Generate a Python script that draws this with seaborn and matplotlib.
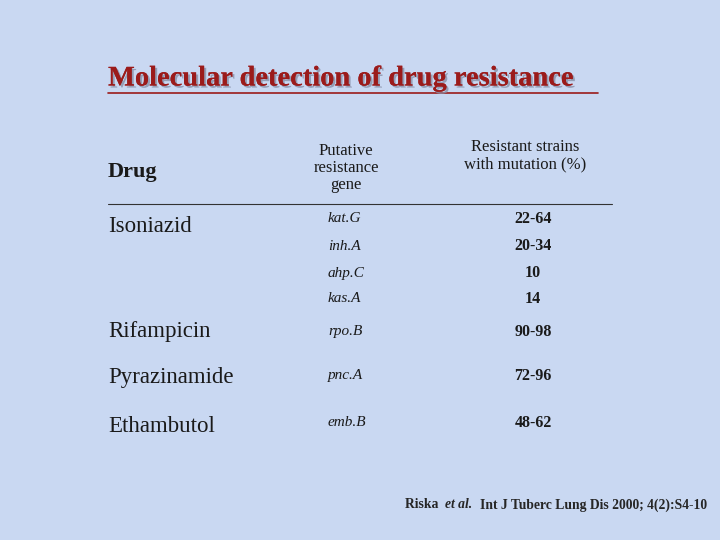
import matplotlib
matplotlib.use("Agg")
import matplotlib.pyplot as plt
import matplotlib.patheffects as pe
import seaborn as sns

sns.set_style("white")
plt.rcParams['font.family'] = ['Liberation Serif', 'DejaVu Serif']

title = "Molecular detection of drug resistance"
headers = ["Drug", "Putative\nresistance\ngene", "Resistant strains\nwith mutation (%)"]
drugs = ["Isoniazid", "Rifampicin", "Pyrazinamide", "Ethambutol"]
drug_y = [227, 332, 378, 426]
genes = ["kat.G", "inh.A", "ahp.C", "kas.A", "rpo.B", "pnc.A", "emb.B"]
values = ["22-64", "20-34", "10", "14", "90-98", "72-96", "48-62"]
row_y = [219, 246, 273, 299, 332, 376, 423]

fig = plt.figure(figsize=(7.2, 5.4), dpi=100)
fig.patch.set_facecolor("#C9D8F2")
ax = fig.add_axes([0, 0, 1, 1])
ax.set_xlim(0, 720); ax.set_ylim(540, 0); ax.axis("off")

ax.text(108, 79, title, color="#9B1B1B", fontsize=20.5, fontweight="bold", va="center",
        path_effects=[pe.withSimplePatchShadow(offset=(1.5, -1.5), shadow_rgbFace="#8890a8", alpha=0.8),
                      pe.Normal()])
ax.plot([108, 598], [93, 93], color="#9B1B1B", lw=1.2)

ax.text(108, 172, headers[0], fontsize=16, fontweight="bold", va="center", color="#1a1a1a")
ax.text(346, 168, headers[1], fontsize=12, ha="center", va="center", linespacing=1.1, color="#1a1a1a")
ax.text(525, 156, headers[2], fontsize=12, ha="center", va="center", linespacing=1.1, color="#1a1a1a")
ax.plot([108, 612], [204, 204], color="#333333", lw=0.8)

for d, y in zip(drugs, drug_y):
    ax.text(108, y, d, fontsize=16.5, va="center", color="#1a1a1a")
for g, v, y in zip(genes, values, row_y):
    ax.text(328, y, g, fontsize=11, fontstyle="italic", va="center", color="#1a1a1a")
    ax.text(533, y, v, fontsize=11.5, fontweight="bold", ha="center", va="center", color="#1a1a1a")

ax.text(405, 505, "Riska ", fontsize=9.8, fontweight="bold", va="center")
ax.text(445, 505, "et al.", fontsize=9.8, fontweight="bold", fontstyle="italic", va="center")
ax.text(480, 505, "Int J Tuberc Lung Dis 2000; 4(2):S4-10", fontsize=9.8, fontweight="bold", va="center")

fig.savefig("out.png", dpi=100, facecolor=fig.get_facecolor())
